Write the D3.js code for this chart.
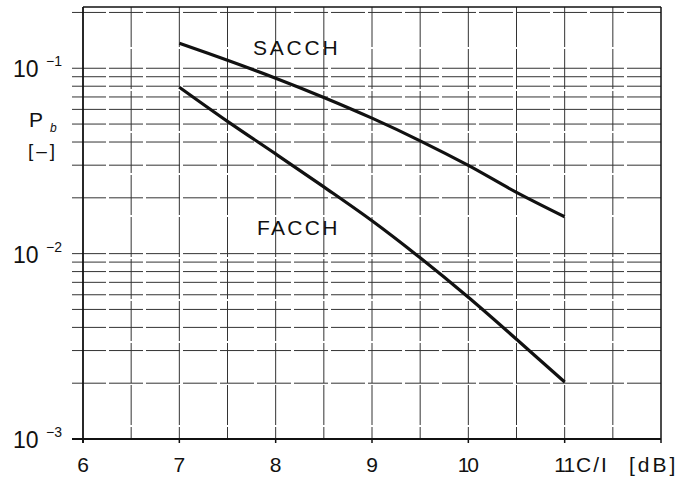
<!DOCTYPE html>
<html>
<head>
<meta charset="utf-8">
<script src="https://cdn.jsdelivr.net/npm/d3@7"></script>
<style>
  body { margin: 0; background: #fff; }
  text { font-family: "Liberation Sans", Arial, sans-serif; fill: #111; }
</style>
</head>
<body>
<svg id="chart" width="691" height="477"></svg>
<script>
// C/I [dB] sample points
var ciValues = [7, 7.5, 8, 8.5, 9, 9.5, 10, 10.5, 11];
// bit error probability
var sacchValues = [0.1364, 0.1104, 0.0884, 0.0696, 0.0538, 0.0406, 0.0299, 0.0214, 0.0158];
var facchValues = [0.0790, 0.0517, 0.0345, 0.0229, 0.01503, 0.00949, 0.00581, 0.00345, 0.00203];
var xTicks = [6, 7, 8, 9, 10, 11];
var yTickExps = [-1, -2, -3];

var svg = d3.select('#chart');
var mLeft = 83, mRight = 661, mTop = 7, mBottom = 439;

var x = d3.scaleLinear().domain([6, 12]).range([mLeft, mRight]);
var y = d3.scaleLog().domain([1e-3, 0.214]).range([mBottom, mTop]);

// horizontal grid (log minor lines)
var hGrid = [];
[1e-3, 1e-2, 1e-1].forEach(function(dec) {
  for (var k = 1; k <= 9; k++) {
    var v = dec * k;
    if (v > 1.001e-3 && v <= 0.2001) hGrid.push(v);
  }
});

svg.append('g').selectAll('line')
  .data(hGrid)
  .enter().append('line')
  .attr('x1', 72).attr('x2', mRight)
  .attr('y1', function(d) { return y(d); })
  .attr('y2', function(d) { return y(d); })
  .attr('stroke', '#333')
  .attr('stroke-width', 1)
  .attr('stroke-dasharray', '34,3');

// vertical grid every 0.5 dB
svg.append('g').selectAll('line')
  .data(d3.range(6.5, 12, 0.5))
  .enter().append('line')
  .attr('x1', function(d) { return x(d); })
  .attr('x2', function(d) { return x(d); })
  .attr('y1', mTop).attr('y2', mBottom)
  .attr('stroke', '#333')
  .attr('stroke-width', 1)
  .attr('stroke-dasharray', '40,2');

// frame
svg.append('line').attr('x1', mLeft).attr('x2', mRight).attr('y1', mTop).attr('y2', mTop)
  .attr('stroke', '#111').attr('stroke-width', 1.5);
svg.append('line').attr('x1', mRight).attr('x2', mRight).attr('y1', mTop).attr('y2', mBottom + 4)
  .attr('stroke', '#111').attr('stroke-width', 1.5);
svg.append('line').attr('x1', mLeft).attr('x2', mLeft).attr('y1', mTop).attr('y2', mBottom + 4)
  .attr('stroke', '#111').attr('stroke-width', 1.8);
svg.append('line').attr('x1', 72).attr('x2', mRight).attr('y1', mBottom).attr('y2', mBottom)
  .attr('stroke', '#111').attr('stroke-width', 1.8);

// x ticks
svg.append('g').selectAll('line')
  .data(xTicks)
  .enter().append('line')
  .attr('x1', function(d) { return x(d); })
  .attr('x2', function(d) { return x(d); })
  .attr('y1', mBottom).attr('y2', mBottom + 4)
  .attr('stroke', '#111').attr('stroke-width', 1.5);

svg.append('g').selectAll('text')
  .data(xTicks)
  .enter().append('text')
  .attr('x', function(d) { return x(d); })
  .attr('y', 472)
  .attr('text-anchor', 'middle')
  .attr('font-size', 21)
  .attr('textLength', function(d) { return d >= 10 ? 21 : null; })
  .text(function(d) { return d; });

svg.append('text')
  .attr('x', 576).attr('y', 472)
  .attr('font-size', 21)
  .style('letter-spacing', '2px')
  .text('C/I');
svg.append('text')
  .attr('x', 629).attr('y', 472)
  .attr('font-size', 21)
  .style('letter-spacing', '3px')
  .text('[dB]');

// y tick labels 10^n
var yl = svg.append('g').selectAll('g')
  .data(yTickExps)
  .enter().append('g')
  .attr('transform', function(d) { return 'translate(13,' + (y(Math.pow(10, d)) + 9) + ')'; });
yl.append('text')
  .attr('font-size', 23)
  .text('10');
yl.append('text')
  .attr('x', 33).attr('y', -11)
  .attr('font-size', 14)
  .text(function(d) { return '\u2212' + (-d); });

// y axis name
svg.append('text').attr('x', 29).attr('y', 127).attr('font-size', 21).text('P');
svg.append('text').attr('x', 50).attr('y', 132).attr('font-size', 12)
  .attr('font-style', 'italic').text('b');
svg.append('text').attr('x', 28).attr('y', 157).attr('font-size', 19)
  .style('letter-spacing', '3px').text('[\u2013]');

// curves
var line = d3.line()
  .x(function(d) { return x(d[0]); })
  .y(function(d) { return y(d[1]); })
  .curve(d3.curveCatmullRom.alpha(0.5));

[sacchValues, facchValues].forEach(function(vals) {
  svg.append('path')
    .datum(d3.zip(ciValues, vals))
    .attr('d', line)
    .attr('fill', 'none')
    .attr('stroke', '#111')
    .attr('stroke-width', 3.2);
});

svg.append('text').attr('x', 253).attr('y', 55).attr('font-size', 21)
  .style('letter-spacing', '2.8px').text('SACCH');
svg.append('text').attr('x', 257).attr('y', 235).attr('font-size', 21)
  .style('letter-spacing', '2.3px').text('FACCH');
</script>
</body>
</html>
